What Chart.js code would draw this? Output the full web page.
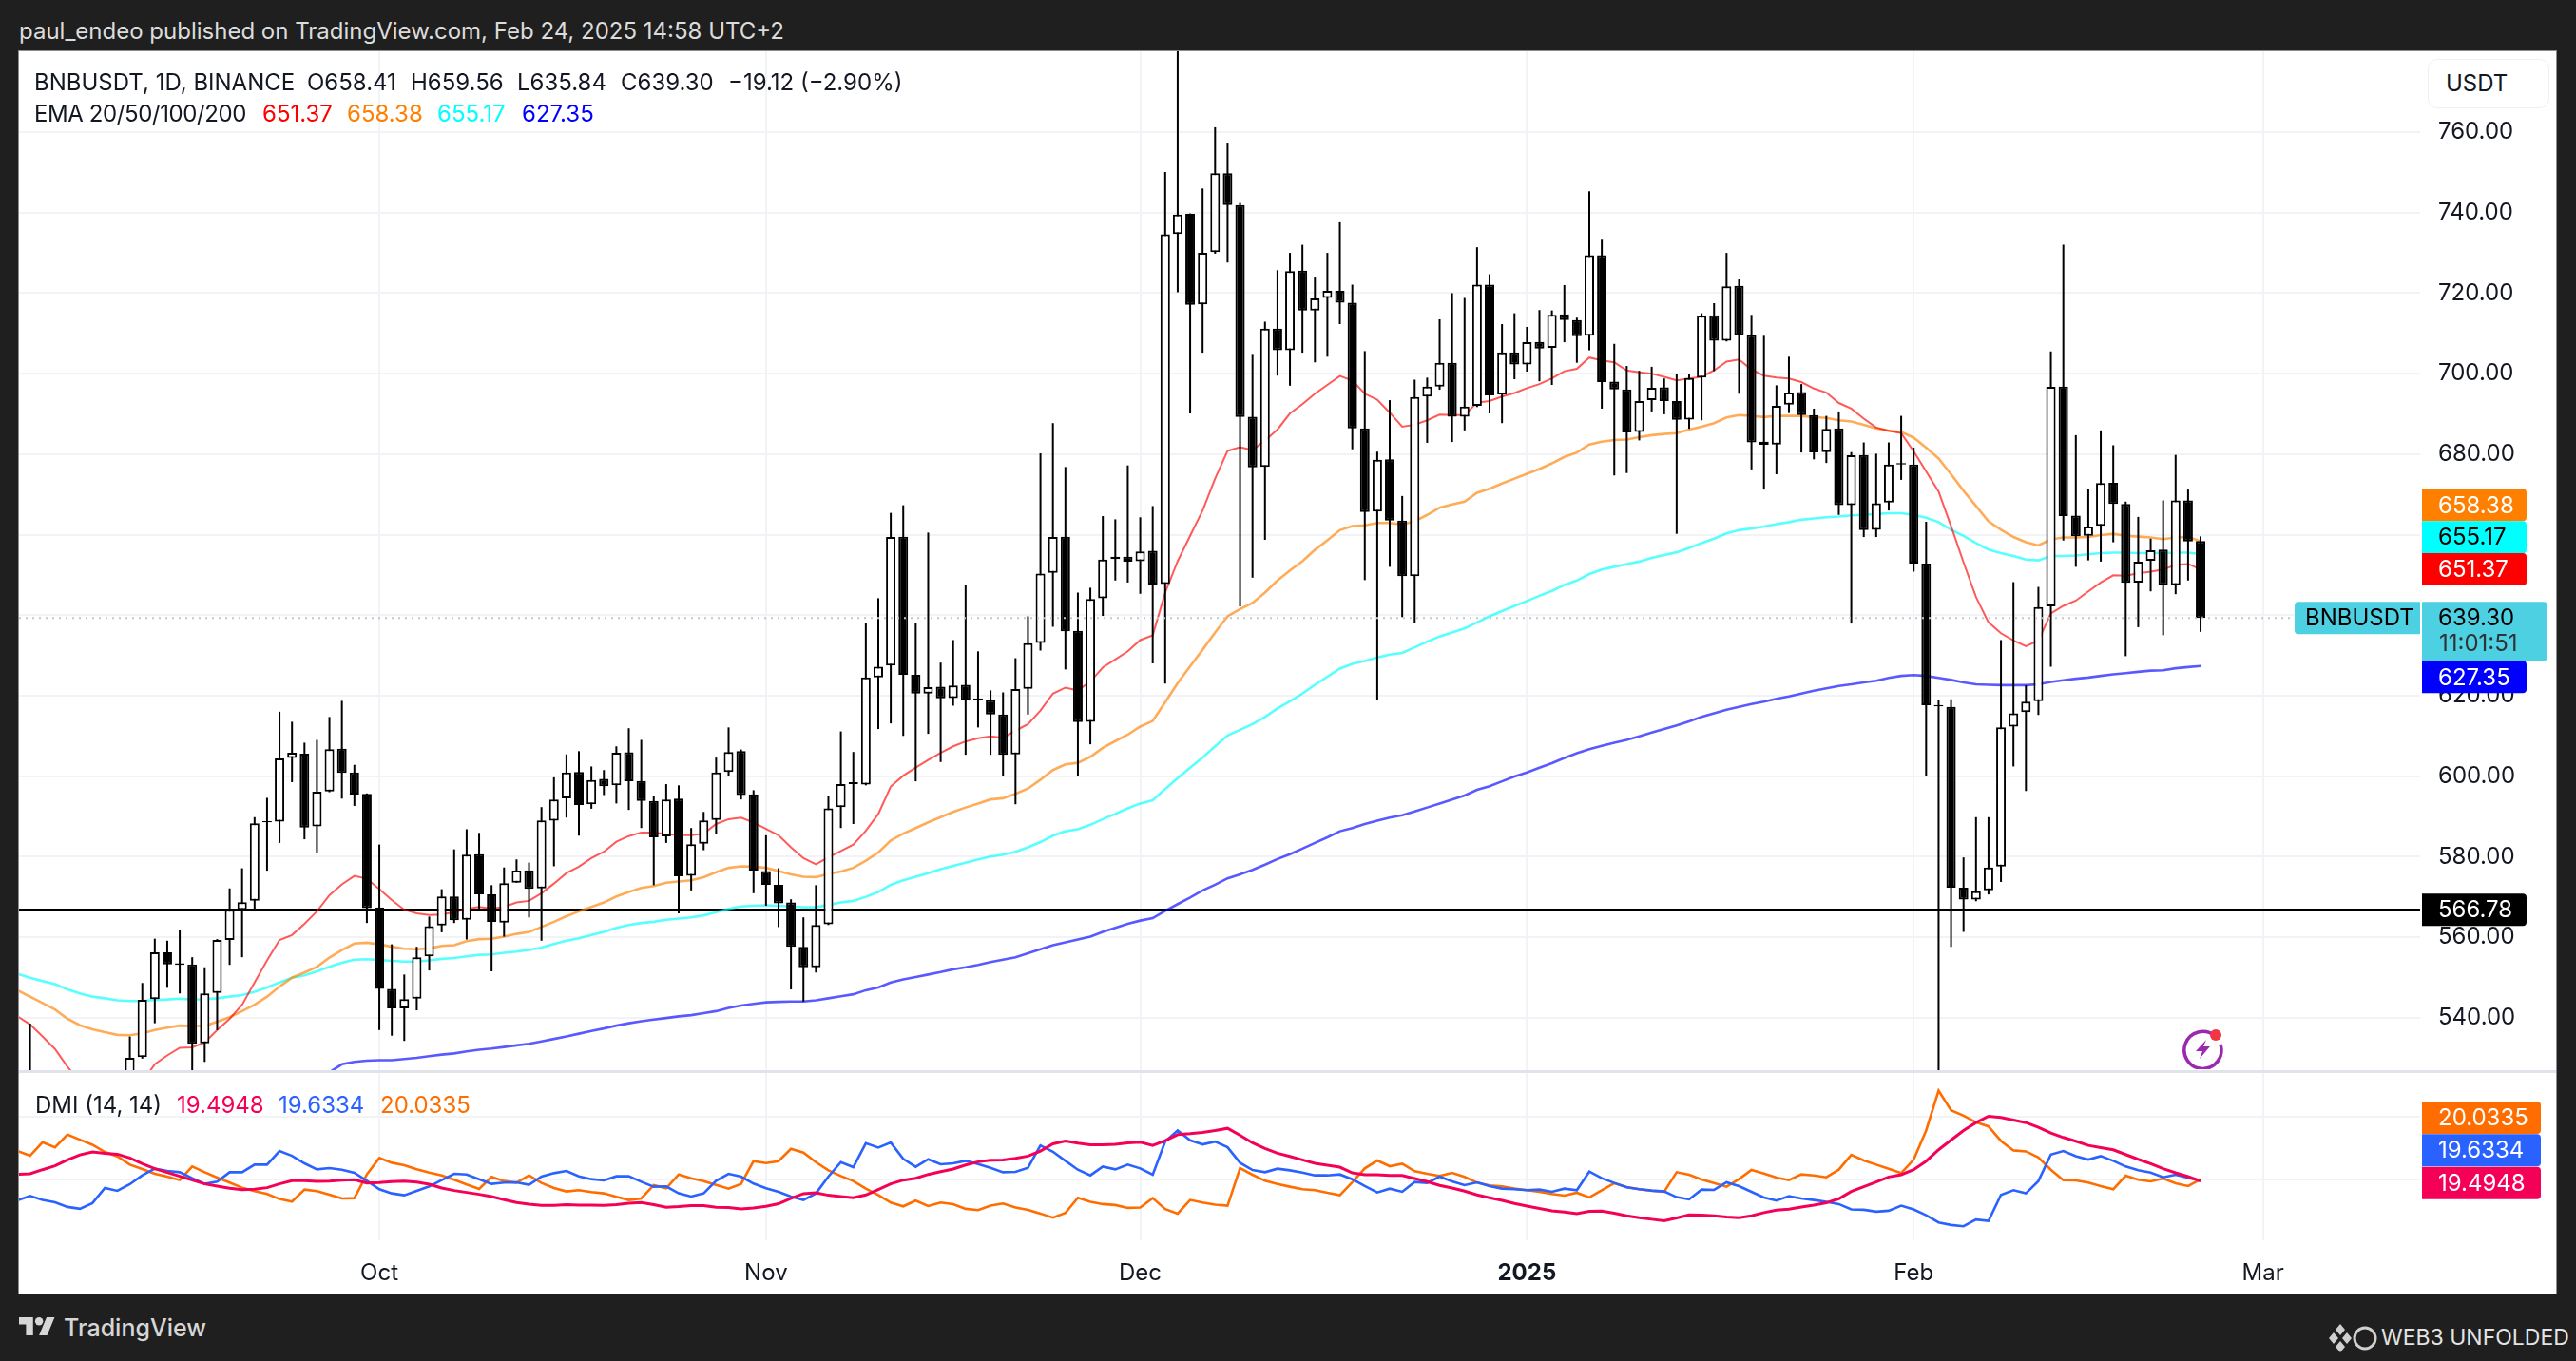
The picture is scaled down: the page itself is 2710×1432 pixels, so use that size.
<!DOCTYPE html>
<html>
<head>
<meta charset="utf-8">
<title>BNBUSDT</title>
<script src="https://cdn.jsdelivr.net/npm/chart.js@4"></script>
<style>
  html, body { margin: 0; background: #1f1f1f; width: 2710px; height: 1432px; overflow: hidden; }
  body, div, span { font-family: Inter, sans-serif; }
  .abs { position: absolute; white-space: pre; line-height: 1; }
  #panel { position: absolute; left: 20px; top: 54px; width: 2669px; height: 1307px; background: #fff; outline: 1px solid #8d8d8d; }
  canvas { position: absolute; display: block; }
  .leg { font-size: 24px; color: #131722; }
</style>
</head>
<body>
<div class="abs" style="left:20px;top:21px;font-size:24px;color:#dcdcdc" id="pub">paul_endeo published on TradingView.com, Feb 24, 2025 14:58 UTC+2</div>
<div id="panel"></div>
<canvas id="priceChart" width="2669" height="1073" style="left:20px;top:54px"></canvas>
<div style="position:absolute;left:20px;top:1126px;width:2669px;height:3px;background:#e0e3eb"></div>
<canvas id="dmiChart" width="2669" height="232" style="left:20px;top:1129px"></canvas>

<div class="abs leg" style="left:36px;top:75px">BNBUSDT, 1D, BINANCE</div>
<div class="abs leg" style="left:323px;top:75px">O658.41</div>
<div class="abs leg" style="left:432px;top:75px">H659.56</div>
<div class="abs leg" style="left:544px;top:75px">L635.84</div>
<div class="abs leg" style="left:653px;top:75px">C639.30</div>
<div class="abs leg" style="left:766px;top:75px">−19.12 (−2.90%)</div>
<div class="abs leg" style="left:36px;top:108px;letter-spacing:-0.4px">EMA 20/50/100/200</div>
<div class="abs leg" style="left:276px;top:108px;color:#ff0000">651.37</div>
<div class="abs leg" style="left:365px;top:108px;color:#ff7f00">658.38</div>
<div class="abs leg" style="left:460px;top:108px;color:#00ffff">655.17</div>
<div class="abs leg" style="left:549px;top:108px;color:#0000ff">627.35</div>
<div class="abs leg" style="left:37px;top:1151px">DMI (14, 14)</div>
<div class="abs leg" style="left:186px;top:1151px;color:#f50057">19.4948</div>
<div class="abs leg" style="left:293px;top:1151px;color:#2962ff">19.6334</div>
<div class="abs leg" style="left:400px;top:1151px;color:#ff6d00">20.0335</div>

<div class="abs" style="left:2554px;top:62px;width:126px;height:50px;border:1px solid #eeeff2;border-radius:10px;background:#fff"></div>
<div class="abs leg" style="left:2573px;top:76px">USDT</div>

<svg style="position:absolute;left:2296px;top:1081px" width="44" height="44" viewBox="0 0 44 44">
  <path d="M34 9 A19.5 19.5 0 1 0 40 18" fill="none" stroke="#9c27b0" stroke-width="3.5"/>
  <path d="M25 13 L14 25 L21 25 L18 33 L29 20 L22 20 Z" fill="#9c27b0"/>
  <circle cx="35" cy="8" r="6" fill="#f23645"/>
</svg>

<svg style="position:absolute;left:20px;top:1385px" width="38" height="21" viewBox="0 4 36 18">
  <path d="M14 22H7V11H0V4h14v18zM28 22h-8l7.5-18h8L28 22z" fill="#d6d6d6"/><circle cx="20" cy="8" r="4" fill="#d6d6d6"/>
</svg>
<div class="abs" style="left:67px;top:1385px;font-size:25px;font-weight:500;color:#d6d6d6">TradingView</div>
<svg style="position:absolute;left:2450px;top:1392px" width="52" height="32" viewBox="0 0 52 32">
  <path d="M12 1l5 6-5 6-5-6zM5 10l5 6-5 6-5-6zM19 10l5 6-5 6-5-6zM12 19l5 6-5 6-5-6z" fill="#cfcfcf"/>
  <circle cx="38" cy="16" r="11" fill="none" stroke="#cfcfcf" stroke-width="3"/>
</svg>
<div class="abs" style="left:2505px;top:1396px;font-size:23px;color:#e4e4e4">WEB3 UNFOLDED</div>

<script>
// day 0 is 3 Sep 2024, one candle per day up to 24 Feb 2025
const monthDays = [28, 59, 89, 120, 151, 179];
const monthNames = ["Oct", "Nov", "Dec", "2025", "Feb", "Mar"];
const priceTicks = [540, 560, 580, 600, 620, 640, 660, 680, 700, 720, 740, 760];
const dmiTicks = [20, 40];

const opens = [
  510,505,508,512,506,503,510,515,520,530.2,
  544.6,556.2,553.5,553.2,533.6,546.1,559.3,566.8,569,588.5,
  588.7,604.5,605.6,587.5,596.2,606.8,600.9,595.6,567.4,547.1,
  542.3,544.7,555.2,562.9,570.1,564.3,580.6,570.6,563.6,573.5,
  576.6,572.1,588.9,594.5,601,593,599.3,597.7,605.9,598.8,
  593.8,585,594.4,575.2,583.2,589.1,601,606.2,595.5,576.4,
  573,568.6,557.6,552.5,563.2,592.3,598.5,597.9,624.5,627.5,
  659.5,625.2,620.5,622.2,619.4,622.7,619.3,618.9,615.3,605.4,
  621.7,633.1,650.5,659.5,636.1,613.5,644.2,654.5,654.5,653.4,
  656,647.7,734.7,739.7,717.2,730.2,749.8,741.9,689.3,676.8,
  711.2,705.8,725.6,715.7,718.8,720.6,717.6,686.4,665.7,678.7,
  663.5,649.7,694.3,696.8,702.7,689.3,692,722.1,694.8,705.3,
  702.3,707.9,706.4,714.7,713.3,709.4,729.4,698,696.1,685.5,
  693.4,696.6,693.2,688.6,699,714.5,708.2,721.8,709.6,683.1,
  682.4,692.3,695.4,689.7,680.5,686.4,667.3,679.8,661.2,668,
  677.8,677.4,652.8,617.7,617.2,572.3,569.3,571.6,577.5,612.3,
  615.9,618.6,642.2,696.8,664.7,659.7,662.2,672.9,667.6,648.1,
  653.5,656.3,647.5,668.5,658.41
];
const highs = [
  538.5,515,515,518,514,512,516,520,535.3,548.6,
  559.6,559.1,561.7,555,552.5,559.5,572.1,577.1,589.8,594.6,
  616,613.5,608.3,609,614.7,618.7,602.8,595.7,583,558.2,
  550.7,557.6,565.1,571.9,581.8,586.8,585.9,572.9,577.3,579.3,
  578.5,592.3,599.7,605.4,606.2,602.4,601.5,607.4,611.9,609,
  595,598,597.7,587.1,591.1,604.6,612.1,606.6,596.5,585.3,
  577.1,569.4,564.9,572.9,595,611.1,606,638,644.2,665.4,
  667.3,638.1,660.5,628.2,633.8,647.5,631,621.3,620.8,629.3,
  639.7,680.2,687.7,676.8,645.6,646.8,664.6,663.8,677.2,664.3,
  667.1,750.1,790,739.8,746,761.2,757.4,742.4,704.9,712.9,
  725.7,730,732,724.1,730,737.6,722.1,705.6,680.6,693.4,
  669.6,698.5,699,713.5,720,718.8,731.4,724.7,712.3,715,
  711.6,715.8,715.7,722,713.9,745.3,733.5,707.4,701.9,700.7,
  701.7,698.8,699.9,699.9,715,717.5,730,723.4,714.6,709.4,
  697.1,704.2,697.4,691.3,689.5,690.6,680.5,682.9,680.1,682.9,
  689.5,681.6,663.2,618.9,619.1,579.8,589.8,589.8,633.8,648.2,
  622.6,647,705.5,732,684.7,671.4,685.9,682.2,668.2,664.4,
  659,668.5,679.8,671.2,659.56
];
const lows = [
  500,495,498,502,498,496,500,505,515,529.8,
  538.6,547.4,546,526,529,536.9,553.1,555,566.4,576.5,
  583.4,598.5,584.3,580.8,596,594.4,592.6,563.5,536.9,535.5,
  534.2,541.8,551.7,561.2,563.5,559.4,566.4,551.5,560.1,573.5,
  564.9,559.1,577.6,589.7,585.2,591.9,595.3,593.2,591.6,587.1,
  572.9,583.4,565.9,571.6,581.6,585.5,599.9,594.2,570.9,567.8,
  562.5,547,544,551.2,563,587.1,588.1,597.7,611.7,613.1,
  610,598.7,610.5,603.5,617.5,605.3,612.1,605.3,600.1,593,
  615.3,631.2,637.1,626.5,600.1,607.9,639.8,648.6,648.1,645.3,
  628,623,720.2,690.1,705.2,729.8,727.6,642.2,649.3,658.7,
  699.5,697,705.2,702.8,704.2,712.3,681.2,648.7,618.8,652,
  639.5,638.1,682.8,696,683,685.9,691.7,690.1,687.7,698.6,
  700.5,698.1,697.2,707.8,702.7,705.8,691.3,674.7,675.3,683.4,
  690.6,689.9,660.2,686.3,688.4,700.6,708,695,676.2,671.2,
  675,690.2,680.4,678.7,677.8,664.9,637.9,659.4,659.4,666,
  673.6,650.8,600,510,557.6,561.3,568.9,570.6,573.7,602.4,
  596.3,615.2,627.2,658.5,652,653.6,653.3,658.1,629.8,637,
  645.9,635,645.2,648.6,635.84
];
const closes = [
  505,508,512,506,503,510,515,520,530,544.4,
  556.2,553.2,553.1,533.5,546,559.3,566.8,568.7,588.3,588.8,
  604.4,605.8,587.2,596.1,606.7,600.8,595.4,567.2,547.1,542.3,
  544.6,555,562.7,570.1,564.2,580.5,570.6,563.8,573.4,576.5,
  572,589,594.2,600.9,592.8,599,597.5,605.8,598.7,593.8,
  584.8,594.2,575.1,583.1,589,600.9,606,595.3,576.5,573,
  568.4,557.6,552.5,563,592,598,598,624.5,627.2,659.4,
  625.2,620.5,622.1,619.3,622.5,618.8,618.9,615.3,605.3,621.6,
  633,650.3,659.4,636,613.4,644,653.8,653.9,653.3,655.8,
  647.6,734.6,739.5,717.1,730,749.8,741.9,689.2,676.7,711.2,
  705.8,725.5,715.7,718.7,720.6,717.6,686.4,665.6,678.6,663.5,
  649.7,694.2,696.8,702.7,689.3,691.8,722.1,694.6,705.3,702.3,
  707.8,706.2,714.6,713.3,709.3,729.4,697.9,696.1,685.4,693.2,
  696.5,693.2,688.5,698.9,714.4,708.2,721.7,709.5,682.9,682.3,
  692,695.3,689.7,680.4,686.3,667.3,679.7,661.1,667.8,677.4,
  677.4,652.8,617.6,617.3,572.3,569.3,571.4,577.3,612.1,615.6,
  618.5,642,696.7,664.6,659.6,662,672.8,667.6,648,653.3,
  656.1,647.4,668.5,658.3,639.3
];

// the averages begin one day before the first candle
const ema20 = [
  540.3,538.3,535.3,532.2,527.8,524,522,520,520,521,524,
  528.4,530.6,532.5,532.6,533.8,536.9,539.7,543.2,548.7,554.2,
  559.3,560.5,563.3,566.4,570.4,573.1,575.2,574.5,571.9,569.2,
  566.8,565.9,565.5,565.6,566.2,567,567.5,567.1,567.5,568.6,
  569,570.9,573.3,575.9,577.5,579.6,581.2,583.7,585.1,586,
  586,585.6,585.3,585.3,585.7,588.1,589.3,589.7,588.5,586.9,
  585.3,582.3,579.6,578.1,579.8,581.4,583,586.4,590.6,597.4,
  600.1,602.1,604,605.8,607.4,608.6,609.4,609.9,609.5,611.3,
  612.9,616.3,620.5,622,621.3,623.5,627,629,631,633.8,
  635,645.6,653.4,659.7,666,673.9,680.8,681.7,681,683.4,
  686.1,690.1,692.4,695,697.2,699.4,698.3,695,693.5,690.3,
  686.8,687.3,688.4,689.8,689.7,689.7,692.8,693.2,694.3,695.2,
  696.4,697.4,698.8,700.6,701.2,704,703.3,702.8,700.8,700.3,
  700,699.2,698.3,698.8,699.2,700.8,703,703.5,701,699.5,
  699,698.8,697.9,696.3,695.3,692.7,691.3,688.8,686.6,685.8,
  685.2,680.7,675.7,670.7,662.1,653.1,644.5,638.2,635.5,633.7,
  632.3,633.7,640.4,642.3,643.6,645.9,648.1,649.9,649.8,650.4,
  650.8,651.3,652.5,652.7,651.37
];
const ema50 = [
  546.8,545.2,543.6,542,539.7,538.1,537.1,536.4,535.7,535.6,536.1,
  536.9,537.5,538,537.9,537.9,539,540.1,541.6,543.2,545.2,
  547.7,549.9,551.2,552.6,554.9,556.8,558.4,558.6,558.2,557.6,
  557.1,557,557.2,557.8,558,559,559.5,559.6,560.1,560.8,
  561.3,562.5,563.8,565.2,566.4,567.5,568.6,570.1,571.2,572.2,
  572.7,573.5,573.8,574.1,574.9,576.1,577.2,577.6,577.5,577.2,
  576.4,575.6,575,574.9,575.7,576.3,577.2,579,581,584,
  585.7,587.1,588.5,589.8,591.1,592.2,593.2,594.2,594.5,595.6,
  596.9,599.1,601.5,602.9,603.3,604.8,607,608.7,610.3,612.3,
  613.7,618.4,623.1,627.3,631.4,635.7,639.7,641.5,643,645.6,
  648.6,651.1,653.4,656.2,658.6,661.1,662.1,662.3,662.9,662.9,
  662.5,663.3,664.9,666.7,667.5,668.2,670.4,671.4,672.7,673.9,
  675.1,676.3,677.7,679.3,680.4,682.4,683.1,683.5,683.6,684.2,
  684.7,685,685.2,686.1,686.8,687.7,689.1,689.7,689.5,689.2,
  689.5,689.5,689.5,689.2,689,688.4,688.1,687.3,686.4,685.8,
  685.5,684.1,681.6,678.9,675,670.9,667.1,663.3,661.2,659.4,
  658.1,657.3,658.8,659.3,659.3,659.4,659.9,660.2,659.7,659.5,
  659.3,658.9,659.3,659.4,658.38
];
const ema100 = [
  550.9,549.9,549.1,548.3,547,546,545.2,544.8,544.3,544.1,544.1,
  544.4,544.5,544.7,544.5,544.6,544.8,545.2,545.6,546.4,547.5,
  548.7,549.9,550.5,551.5,552.6,553.6,554.4,554.5,554.3,554.1,
  553.9,553.9,554.2,554.6,554.8,555.2,555.6,555.7,556.1,556.4,
  556.8,557.4,558.3,559.1,559.7,560.5,561.3,562.3,563,563.5,
  563.8,564.3,564.6,564.9,565.4,566.2,567,567.6,567.8,567.9,
  567.8,567.6,567.4,567.4,568,568.6,569,570,571.2,573,
  574.1,575,575.9,576.9,577.7,578.5,579.3,580,580.5,581.2,
  582.3,583.6,585.2,586.3,586.8,587.9,589.3,590.6,592,593.2,
  594,596.8,599.5,602.1,604.6,607.4,610.1,611.5,612.9,614.7,
  616.8,618.6,620.5,622.7,624.7,626.7,627.9,628.6,629.5,630.2,
  630.6,632,633.4,634.7,635.7,636.7,638.2,639.7,641,642.3,
  643.5,644.8,646,647.5,648.6,650.2,651.3,652,652.7,653.3,
  654.2,654.9,655.6,656.7,657.9,659,660.3,661.1,661.5,662,
  662.6,663.1,663.7,664,664.3,664.5,664.8,664.9,665.1,665.3,
  665.3,664.9,664.2,663.1,661.2,659.7,657.9,656.3,655.4,654.7,
  653.8,653.6,654.7,654.7,654.8,655.1,655.4,655.5,655.5,655.4,
  655.4,655.4,655.5,655.5,655.17
];
// the 200 line comes up through the bottom edge of the pane around day 24
const ema200Start = 24;
const ema200 = [
  526.4,528.4,529,529.3,529.4,529.4,529.7,530,530.4,530.8,531.1,531.6,
  532,532.3,532.7,533.1,533.5,534.1,534.7,535.3,536,536.7,
  537.3,538,538.6,539.1,539.5,539.9,540.3,540.6,541.1,541.6,
  542.4,543,543.4,543.8,543.9,544,544,544.3,544.8,545.3,
  545.8,546.8,547.5,548.7,549.5,550.1,550.7,551.3,552,552.5,
  553.1,553.8,554.4,555,556,557,558,558.7,559.4,560.1,
  561.3,562.3,563.3,564.1,564.7,566.5,568.2,569.8,571.6,573,
  574.6,575.6,576.7,578,579.4,580.6,582,583.4,584.8,586.3,
  587.1,588.1,588.9,589.7,590.3,591.2,592.2,593.2,594.2,595.2,
  596.6,597.5,598.7,599.9,600.9,602.1,603.2,604.5,605.7,606.7,
  607.5,608.3,609,609.9,610.8,611.7,612.6,613.6,614.7,615.6,
  616.5,617.2,617.9,618.5,619.2,619.8,620.5,621.2,621.8,622.4,
  622.8,623.3,623.7,624.4,624.9,625.1,624.9,624.4,623.9,623.3,
  622.8,622.7,622.6,622.6,622.6,622.8,623.4,623.8,624.2,624.5,
  624.9,625.3,625.6,625.9,626.2,626.3,626.8,627.1,627.35
];

const adx = [
  21.6,21.8,23.1,24.3,26.2,27.8,28.7,28.3,28,26.8,25,
  23.4,22.2,21,19.8,18.6,17.9,17.2,16.8,16.9,17.4,
  18.6,19.6,19.6,19.4,19.5,19.8,19.9,18.9,19,19.3,
  19.5,19.2,18.5,17.3,16.5,15.9,15.3,14.6,13.6,12.7,
  12.2,11.8,11.8,12,11.9,11.9,11.8,12,12.5,12.7,
  12,11.2,11.4,11.7,11.7,11.2,11.1,10.7,11,11.5,
  12.3,14,15.5,15.8,15,14.6,14.2,15.1,16.8,18.6,
  19.8,20.4,21.6,22.5,
  23.3,24.6,25.6,26.1,26.2,26.7,27.4,29,31.3,32.2,
  31.5,31,31,31.1,31.6,31.8,30.8,32.3,34.2,34.5,
  34.9,35.5,36.2,34,31.6,29.8,28.3,27.3,26.2,25.1,
  24.5,23.9,22.1,21.5,21.5,21.3,21.3,20.3,19.3,18.1,
  17.3,16.3,15.1,14.2,13.4,12.4,11.6,10.8,10.1,9.7,
  9.2,9.9,10,9.3,
  8.5,7.9,7.4,6.9,7.8,8.8,8.7,8.5,8.1,7.9,
  8.5,9.5,10.3,10.6,11.3,11.9,12.6,13.9,16.2,17.7,
  19.2,20.8,21.5,23.1,25.8,29.4,32.5,35.5,38,40,
  39.6,38.8,38,36.5,34.7,33.3,32.1,30.8,30.1,29.4,
  27.9,26.4,25,23.4,22.1,20.9,19.49
];
const plusDi = [
  13.4,14.8,13.5,12.8,11.3,10.7,12.5,17.3,16.4,18.5,21.3,
  23.4,22.7,22.3,20.4,18.6,19.3,22.3,22.3,24.7,24.7,
  29,27.5,25.1,23.2,23.6,23.1,22.1,19.6,16.9,15.6,
  15,16.4,17.8,19.8,21.8,21.6,20.1,18.6,19,19.1,
  18.3,20.9,22,22.7,21,20.1,19.7,21,21,19.3,
  17.7,17.8,15.6,14.6,15.6,19.6,21.8,20.9,18.7,17.2,
  16.1,14.6,13.5,15.6,20.9,25.5,23.9,31.5,30.1,31.7,
  26.5,24,26.4,24.8,
  25.1,25.9,24.9,23.7,22.3,22.4,23.7,30.8,28.8,25.9,
  23.1,21.3,24.1,23.2,24.7,23.5,21.5,32,35.5,32.4,
  31.1,32,30.2,25.3,23,22.3,23.4,22.9,22.2,21.3,
  21.3,21.6,20.1,17.9,15.9,17.1,16.1,19.2,18.9,20.9,
  19.4,18.2,19.1,17.9,17.1,16.9,16.6,16.8,16.1,17.1,
  16.6,22.5,20.4,18.9,
  17.5,16.9,16.5,16.2,14.4,13.7,16.8,16.7,19.1,17.9,
  16.1,14.3,13.3,14.7,14,13.5,12.9,12.2,10.5,10.4,
  9.8,10.1,11.7,10.5,8.7,6.4,5.6,5.2,7.3,6.9,
  15.1,16.6,15.6,19.5,27.9,29,27.4,26.3,27.4,25.9,
  24.1,22.9,22.2,20.7,21.5,20.5,19.63
];
const minusDi = [
  29,27.5,31.8,30.2,34.2,32.6,31,28.7,27.3,24.7,23.3,
  21.8,20.9,19.8,24.1,22.3,20.6,19,17.4,16.3,15.4,
  13.8,13,16.8,16.3,15.2,14,14.1,21.6,26.8,25.3,
  24.5,23.2,22.2,21.3,19.9,18.4,17,20.8,19.5,19,
  21.3,18.9,17.3,16.2,16.6,16,15.6,14.5,13.5,14,
  18.2,17.2,21.6,20.4,19.5,18.3,17.1,18.6,25.8,25.2,
  25.8,29.7,28.5,25.5,22.9,21.1,19.5,17.1,15.1,12.7,
  11.5,13.3,11.6,12.7,
  12.2,10.7,10.3,11.7,12.4,11.1,10.4,9.2,7.9,9.4,
  14.2,12.9,12.2,11.9,11,11.1,14.1,10.6,9.2,13.5,
  12.7,12,11.7,23.6,21.5,19.6,18.6,17.7,16.9,16.6,
  15.8,15,19.1,23.5,26,24.2,25,22.6,21.8,21.1,
  22.1,20.8,19,18.1,17.8,17.1,16.6,16.1,15.4,14.9,
  15.8,14.3,16.6,18.8,
  17.6,16.9,16.4,16.1,22.3,21.5,20,18.9,17.7,20.1,
  23,21.9,20.6,19.8,21.6,21.3,20.7,23.1,27.8,26,
  24.7,23.4,22,26.3,35.5,48.1,41.9,40.2,38.1,36.8,
  32.2,29.2,28.9,27,23.1,19.8,19.7,19,17.9,16.9,
  21.2,19.9,19.4,20.3,18.8,17.9,20.03
];

const lastClose = 639.30;
const supportLevel = 566.78;

// axis limits so both panes line up with the frame
const xMin = -0.884, xMax = 191.6;
const priceMin = 526.7, priceMax = 780.08;
const dmiMin = 0.74, dmiMax = 53.7;

const GRID = "#f1f3f6";
const INK = "#131722";
const AXIS_W = 143;

function pts(values, start) {
  return values.map((v, i) => ({ x: start + i, y: v }));
}

function xScale(withLabels) {
  return {
    type: "linear", min: xMin, max: xMax, offset: false,
    grid: { color: GRID, lineWidth: 2, drawTicks: false, offset: false },
    border: { display: false },
    afterBuildTicks: s => { s.ticks = monthDays.map(v => ({ value: v })); },
    afterFit: s => { s.height = withLabels ? 56 : 0; s.paddingLeft = s.paddingRight = 0; },
    ticks: {
      display: withLabels, autoSkip: false, maxRotation: 0, padding: 20, color: INK,
      font: c => ({ family: "Inter", size: 24, weight: c.tick && c.tick.value === 120 ? "700" : "400" }),
      callback: v => monthNames[monthDays.indexOf(v)]
    }
  };
}

function tagsPlugin(tags) {
  return {
    id: "tags",
    afterDraw(chart) {
      const y = chart.scales.y, c = chart.ctx, left = chart.chartArea.right + 2;
      c.save();
      c.textBaseline = "middle";
      c.font = "24px Inter";
      tags.forEach(t => {
        const cy = y.getPixelForValue(t.value) + (t.shift || 0);
        const h = t.h || 34, top = cy - (t.h ? 17 : h / 2);
        c.fillStyle = t.bg;
        c.beginPath();
        c.roundRect(left, top, t.w || 110, h, [0, 4, 4, 0]);
        c.fill();
        c.fillStyle = t.fg;
        c.fillText(t.text, left + 17, cy + 1);
        if (t.sub) {
          c.fillStyle = "#2f3338";
          c.fillText(t.sub, left + 18, cy + 28);
        }
        if (t.name) {
          c.fillStyle = t.bg;
          c.beginPath();
          c.roundRect(left - 134, top, 132, 34, [4, 0, 0, 4]);
          c.fill();
          c.fillStyle = t.fg;
          c.fillText(t.name, left - 123, cy + 1);
        }
      });
      c.restore();
    }
  };
}

new Chart(document.getElementById("priceChart"), {
  type: "bar",
  data: {
    datasets: [
      { type: "line", data: [{ x: xMin, y: lastClose }, { x: xMax, y: lastClose }], borderColor: "#c4c6cb", borderWidth: 2, borderDash: [2, 5], pointRadius: 0, order: -1 },
      { type: "bar", data: opens.map((o, i) => ({ x: i, y: [o, closes[i]] })), grouped: false, barThickness: 10, borderWidth: 2, borderColor: "#000", borderSkipped: false, inflateAmount: 0,
        backgroundColor: opens.map((o, i) => closes[i] >= o ? "#fff" : "#000"), order: 0 },
      { type: "bar", data: lows.map((l, i) => ({ x: i, y: [l, highs[i]] })), grouped: false, barThickness: 2, backgroundColor: "#000", inflateAmount: 0, order: 1 },
      { type: "line", data: pts(ema20, -1), borderColor: "rgba(255,0,0,0.65)", borderWidth: 2, pointRadius: 0, order: 2 },
      { type: "line", data: pts(ema50, -1), borderColor: "rgba(255,127,0,0.65)", borderWidth: 2.6, pointRadius: 0, order: 3 },
      { type: "line", data: pts(ema100, -1), borderColor: "rgba(0,255,255,0.65)", borderWidth: 2.6, pointRadius: 0, order: 4 },
      { type: "line", data: pts(ema200, ema200Start), borderColor: "rgba(0,0,255,0.65)", borderWidth: 2.6, pointRadius: 0, order: 5 },
      { type: "line", data: [{ x: xMin, y: supportLevel }, { x: xMax, y: supportLevel }], borderColor: "#000", borderWidth: 2.6, pointRadius: 0, order: 6 }
    ]
  },
  options: {
    responsive: false, animation: false, events: [],
    layout: { padding: 0, autoPadding: false },
    plugins: { legend: { display: false }, tooltip: { enabled: false } },
    scales: {
      x: xScale(false),
      y: {
        position: "right", min: priceMin, max: priceMax,
        grid: { color: GRID, lineWidth: 2, drawTicks: false },
        border: { display: false },
        afterBuildTicks: s => { s.ticks = priceTicks.map(v => ({ value: v })); },
        afterFit: s => { s.width = AXIS_W; s.paddingTop = s.paddingBottom = 0; },
        ticks: { padding: 19, color: INK, font: { family: "Inter", size: 24 }, callback: v => v.toFixed(2) }
      }
    }
  },
  plugins: [tagsPlugin([
    { value: 658.38, text: "658.38", bg: "#ff7f00", fg: "#fff", shift: -38 },
    { value: 655.17, text: "655.17", bg: "#00ffff", fg: "#000", shift: -17.7 },
    { value: 651.37, text: "651.37", bg: "#ff0000", fg: "#fff" },
    { value: 627.35, text: "627.35", bg: "#0000ff", fg: "#fff", shift: 11.6 },
    { value: lastClose, text: "639.30", sub: "11:01:51", name: "BNBUSDT", bg: "#4dd0e1", fg: "#000", h: 62, w: 132 },
    { value: supportLevel, text: "566.78", bg: "#000", fg: "#fff" }
  ])]
});

new Chart(document.getElementById("dmiChart"), {
  type: "line",
  data: {
    datasets: [
      { data: pts(adx, -1), borderColor: "#f50057", borderWidth: 3, pointRadius: 0 },
      { data: pts(plusDi, -1), borderColor: "#2962ff", borderWidth: 2.6, pointRadius: 0 },
      { data: pts(minusDi, -1), borderColor: "#ff6d00", borderWidth: 2.6, pointRadius: 0 }
    ]
  },
  options: {
    responsive: false, animation: false, events: [],
    layout: { padding: 0, autoPadding: false },
    plugins: { legend: { display: false }, tooltip: { enabled: false } },
    scales: {
      x: xScale(true),
      y: {
        position: "right", min: dmiMin, max: dmiMax,
        grid: { color: GRID, lineWidth: 2, drawTicks: false },
        border: { display: false },
        afterBuildTicks: s => { s.ticks = dmiTicks.map(v => ({ value: v })); },
        afterFit: s => { s.width = AXIS_W; s.paddingTop = s.paddingBottom = 0; },
        ticks: { display: false }
      }
    }
  },
  plugins: [tagsPlugin([
    { value: 20.0335, text: "20.0335", bg: "#ff6d00", fg: "#fff", shift: -65, w: 125 },
    { value: 19.6334, text: "19.6334", bg: "#2962ff", fg: "#fff", shift: -32, w: 125 },
    { value: 19.4948, text: "19.4948", bg: "#f50057", fg: "#fff", shift: 2, w: 125 }
  ])]
});
</script>
</body>
</html>
